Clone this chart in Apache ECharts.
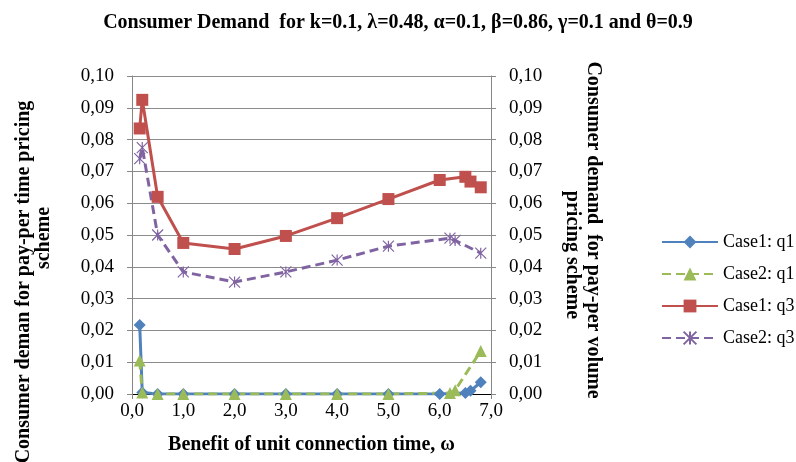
<!DOCTYPE html>
<html>
<head>
<meta charset="utf-8">
<script src="https://cdn.jsdelivr.net/npm/echarts@6/dist/echarts.min.js"></script>
<style>
  html, body { margin: 0; padding: 0; background: #fff; }
  #chart { width: 796px; height: 462px; }
</style>
</head>
<body>
<div id="chart"></div>
<script>
// Benefit of unit connection time (omega) for each case
const omegaCase1 = [0.15, 0.2, 0.5, 1, 2, 3, 4, 5, 6, 6.5, 6.6, 6.8];
const omegaCase2 = [0.15, 0.2, 0.5, 1, 2, 3, 4, 5, 6.2, 6.3, 6.8];

// Consumer demand values
const case1Q1 = [0.0217, 0.0005, 0, 0, 0, 0, 0, 0, 0, 0.0003, 0.001, 0.0037];
const case2Q1 = [0.0105, 0.0005, 0, 0, 0, 0, 0, 0, 0.0003, 0.0012, 0.0135];
const case1Q3 = [0.0835, 0.0925, 0.062, 0.0475, 0.0456, 0.0497, 0.0553, 0.0613, 0.0673, 0.0683, 0.0668, 0.065];
const case2Q3 = [0.074, 0.0775, 0.050, 0.0384, 0.0352, 0.0384, 0.0421, 0.0465, 0.049, 0.0483, 0.0443];

const seriesNames = ['Case1: q1', 'Case2: q1', 'Case1: q3', 'Case2: q3'];

const pair = (xs, ys) => xs.map((x, i) => [x, ys[i]]);
const comma = (v, d) => v.toFixed(d).replace('.', ',');

const FONT = '"Liberation Serif", "Times New Roman", serif';
const crossPath = 'path://M0,0 L10,10 M10,0 L0,10 M5,0 L5,10';

const chart = echarts.init(document.getElementById('chart'), null, { renderer: 'canvas' });

const yAxisCommon = {
  type: 'value',
  min: 0,
  max: 0.1,
  interval: 0.01,
  axisLine: { show: true, lineStyle: { color: '#868686', width: 1 } },
  axisTick: { show: true, length: 5, lineStyle: { color: '#868686' } },
  axisLabel: { formatter: v => comma(v, 2), fontFamily: FONT, fontSize: 19, color: '#000', margin: 18 },
};

chart.setOption({
  animation: false,
  backgroundColor: '#fff',
  title: {
    text: 'Consumer Demand  for k=0.1, \u03bb=0.48, \u03b1=0.1, \u03b2=0.86, \u03b3=0.1 and \u03b8=0.9',
    left: 'center',
    top: 8,
    textStyle: { fontFamily: FONT, fontWeight: 'bold', fontSize: 20, color: '#000' }
  },
  grid: { left: 132, right: 305, top: 76, bottom: 68 },
  legend: {
    orient: 'vertical',
    left: 656,
    top: 228,
    itemWidth: 56,
    itemHeight: 16,
    itemGap: 14,
    data: seriesNames,
    textStyle: { fontFamily: FONT, fontSize: 18, color: '#000' }
  },
  xAxis: {
    type: 'value',
    min: 0,
    max: 7,
    interval: 1,
    name: 'Benefit of unit connection time, \u03c9',
    nameLocation: 'middle',
    nameGap: 41,
    nameTextStyle: { fontFamily: FONT, fontWeight: 'bold', fontSize: 20, color: '#000' },
    axisLine: { show: true, onZero: false, lineStyle: { color: '#000', width: 1 } },
    axisTick: { show: true, length: 5, lineStyle: { color: '#868686' } },
    axisLabel: { formatter: v => comma(v, 1), fontFamily: FONT, fontSize: 19, color: '#000', margin: 8 },
    splitLine: { show: false }
  },
  yAxis: [
    Object.assign({}, yAxisCommon, {
      position: 'left',
      splitLine: { show: true, lineStyle: { color: '#8c8c8c', width: 1 } }
    }),
    Object.assign({}, yAxisCommon, {
      position: 'right',
      splitLine: { show: false }
    })
  ],
  series: [
    {
      name: seriesNames[0], type: 'line', yAxisIndex: 0,
      data: pair(omegaCase1, case1Q1),
      symbol: 'diamond', symbolSize: 12,
      itemStyle: { color: '#4F81BD' },
      lineStyle: { color: '#4F81BD', width: 3 }
    },
    {
      name: seriesNames[1], type: 'line', yAxisIndex: 0,
      data: pair(omegaCase2, case2Q1),
      symbol: 'triangle', symbolSize: 12,
      itemStyle: { color: '#9BBB59' },
      lineStyle: { color: '#9BBB59', width: 3, type: [9, 5] }
    },
    {
      name: seriesNames[2], type: 'line', yAxisIndex: 1,
      data: pair(omegaCase1, case1Q3),
      symbol: 'rect', symbolSize: 12,
      itemStyle: { color: '#C0504D' },
      lineStyle: { color: '#C0504D', width: 3 }
    },
    {
      name: seriesNames[3], type: 'line', yAxisIndex: 1,
      data: pair(omegaCase2, case2Q3),
      symbol: crossPath, symbolSize: 11,
      itemStyle: { color: '#8064A2', borderColor: '#8064A2', borderWidth: 1.2 },
      lineStyle: { color: '#8064A2', width: 3, type: [9, 5] }
    }
  ],
  graphic: [
    {
      type: 'text', x: 24, y: 282, rotation: Math.PI / 2,
      style: { text: 'Consumer deman for pay-per time pricing', x: 0, y: 0, align: 'center', verticalAlign: 'middle',
               font: 'bold 20px ' + FONT, fill: '#000' }
    },
    {
      type: 'text', x: 44, y: 238, rotation: Math.PI / 2,
      style: { text: 'scheme', x: 0, y: 0, align: 'center', verticalAlign: 'middle',
               font: 'bold 20px ' + FONT, fill: '#000' }
    },
    {
      type: 'text', x: 593, y: 230, rotation: -Math.PI / 2,
      style: { text: 'Consumer demand  for pay-per volume', x: 0, y: 0, align: 'center', verticalAlign: 'middle',
               font: 'bold 20px ' + FONT, fill: '#000' }
    },
    {
      type: 'text', x: 572, y: 255, rotation: -Math.PI / 2,
      style: { text: 'pricing scheme', x: 0, y: 0, align: 'center', verticalAlign: 'middle',
               font: 'bold 20px ' + FONT, fill: '#000' }
    }
  ]
});
</script>
</body>
</html>
